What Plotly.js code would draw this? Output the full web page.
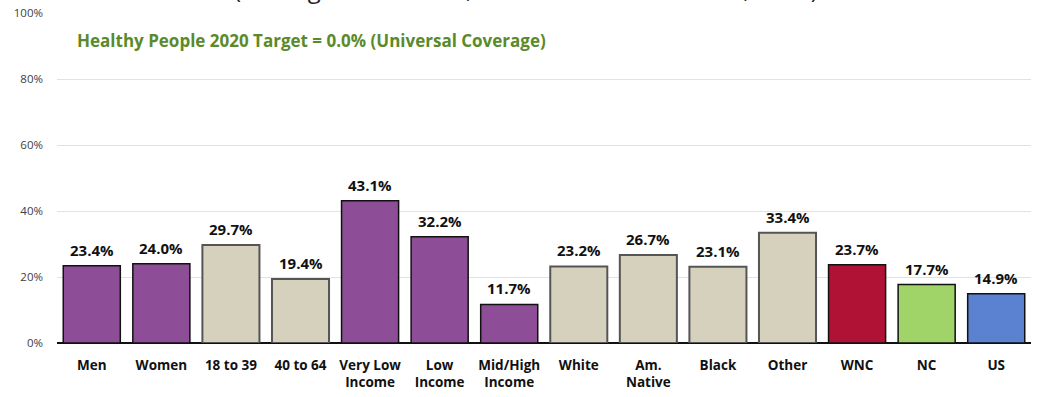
<!DOCTYPE html>
<html>
<head>
<meta charset="utf-8">
<script src="https://cdn.plot.ly/plotly-3.0.1.min.js"></script>
<style>html,body{margin:0;padding:0;background:#fff;}#chart{width:1039px;height:397px;}</style>
</head>
<body>
<div id="chart"></div>
<script>
const categories = ["Men", "Women", "18 to 39", "40 to 64", "Very Low<br>Income", "Low<br>Income", "Mid/High<br>Income", "White", "Am.<br>Native", "Black", "Other", "WNC", "NC", "US"];
const values = [23.4, 24.0, 29.7, 19.4, 43.1, 32.2, 11.7, 23.2, 26.7, 23.1, 33.4, 23.7, 17.7, 14.9];
const barColors = ["#8E4E97", "#8E4E97", "#D6D1BC", "#D6D1BC", "#8E4E97", "#8E4E97", "#8E4E97", "#D6D1BC", "#D6D1BC", "#D6D1BC", "#D6D1BC", "#B01236", "#A0D468", "#5B82D1"];
const lineColors = ["#111", "#111", "#555", "#555", "#111", "#111", "#111", "#555", "#555", "#555", "#555", "#111", "#111", "#111"];
const lineWidths = [1.5, 1.5, 2, 2, 1.5, 1.5, 1.5, 2, 2, 2, 2, 1.5, 1.5, 1.5];
const yTickVals = [0, 20, 40, 60, 80, 100];
const yTickText = ["0%", "20%", "40%", "60%", "80%", "100%"];
const targetText = "Healthy People 2020 Target = 0.0% (Universal Coverage)";
const subtitleText = "(Among Adults 18-64; Western North Carolina, 2018)";

const FONT = "Open Sans, Noto Sans, sans-serif";

const trace = {
  type: "bar",
  x: categories,
  y: values,
  marker: { color: barColors, line: { color: lineColors, width: lineWidths } },
  hoverinfo: "none"
};

const labelAnns = categories.map((c, i) => ({
  x: c, y: values[i], xref: "x", yref: "y",
  text: "<b>" + values[i].toFixed(1) + "%</b>",
  showarrow: false, yanchor: "bottom", yshift: 4,
  font: { family: FONT, size: 15, color: "#111" }
}));

const layout = {
  width: 1039, height: 397,
  margin: { l: 57, r: 8, t: 13, b: 54 },
  paper_bgcolor: "#fff", plot_bgcolor: "#fff",
  showlegend: false,
  bargap: 0.18,
  xaxis: {
    type: "category",
    tickfont: { family: FONT, size: 13.5, color: "#111", weight: "bold" },
    ticks: "", ticklabelstandoff: 12,
    showgrid: false, showline: false, zeroline: false
  },
  yaxis: {
    range: [0, 100],
    tickvals: yTickVals, ticktext: yTickText,
    tickfont: { family: FONT, size: 11.5, color: "#404040" },
    ticks: "", ticklabelstandoff: 13,
    showgrid: true, gridcolor: "#e2e2e2", gridwidth: 1,
    zeroline: true, zerolinecolor: "#111", zerolinewidth: 1.5,
    showline: false, fixedrange: true
  },
  annotations: labelAnns.concat([
    {
      xref: "paper", yref: "paper", x: 0.018, y: 0.918, xanchor: "left", yanchor: "middle",
      text: "<b>" + targetText + "</b>", showarrow: false,
      font: { family: FONT, size: 17, color: "#5A8A2A" }
    },
    {
      xref: "paper", yref: "paper", x: 0.4815, y: 1, xanchor: "center", yanchor: "bottom", yshift: 6,
      text: subtitleText, showarrow: false,
      font: { family: FONT, size: 24, color: "#222" }
    }
  ])
};

Plotly.newPlot("chart", [trace], layout, { displayModeBar: false, staticPlot: true });
</script>
</body>
</html>
